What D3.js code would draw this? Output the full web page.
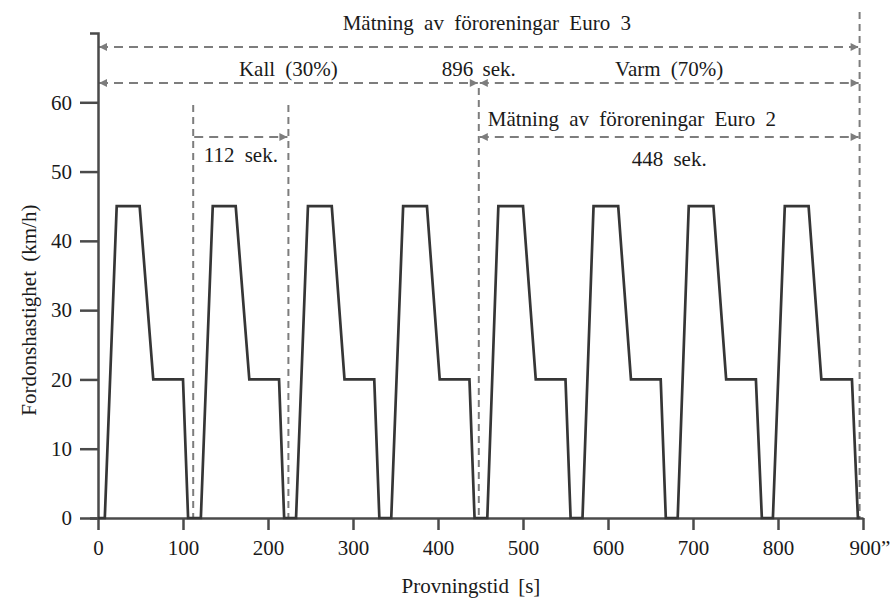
<!DOCTYPE html>
<meta charset="utf-8">
<script src="https://d3js.org/d3.v7.min.js"></script>
<style>
  body { margin: 0; background: white; }
  text { font-family: 'Liberation Serif', serif; fill: #1a1a1a; }
</style>
<body>
<div id="my_dataviz"></div>
<script>

// speed trace (s, km/h)
var times = [0,
  8, 22, 49, 65, 100, 106,
  121, 135, 162, 178, 213, 219,
  233, 247, 275, 290, 325, 331,
  345, 359, 387, 402, 437, 443,
  458, 471, 500, 515, 550, 556,
  570, 583, 612, 627, 662, 668,
  682, 695, 724, 739, 774, 781,
  794, 808, 836, 851, 887, 894,
  896]
var speeds = [0,
  0, 45, 45, 20, 20, 0,
  0, 45, 45, 20, 20, 0,
  0, 45, 45, 20, 20, 0,
  0, 45, 45, 20, 20, 0,
  0, 45, 45, 20, 20, 0,
  0, 45, 45, 20, 20, 0,
  0, 45, 45, 20, 20, 0,
  0, 45, 45, 20, 20, 0,
  0]

var xTicks = [0, 100, 200, 300, 400, 500, 600, 700, 800, 900]
var xTickLabels = ["0", "100", "200", "300", "400", "500", "600", "700", "800", "900\u201d"]
var yTicks = [0, 10, 20, 30, 40, 50, 60]

// annotation spans in seconds
var spanStart = [0, 0, 448, 112, 448]
var spanEnd = [896, 448, 896, 224, 896]
var spanLabels = ["Mätning av föroreningar Euro 3", "Kall (30%)", "Varm (70%)", "112 sek.", "448 sek."]
var guideTimes = [112, 224, 448, 896]

var width = 891
    height = 601

var svg = d3.select("#my_dataviz")
  .append("svg")
    .attr("width", width)
    .attr("height", height)

var x = d3.scaleLinear().domain([0, 900]).range([98, 863])
var y = d3.scaleLinear().domain([0, 70]).range([518, 33])

var grey = "#7d7d7d"

var defs = svg.append("defs")
defs.append("marker")
    .attr("id", "arrowEnd")
    .attr("viewBox", "0 0 10 10")
    .attr("refX", 10).attr("refY", 5)
    .attr("markerWidth", 5).attr("markerHeight", 4)
    .attr("markerUnits", "strokeWidth")
    .attr("orient", "auto")
  .append("path")
    .attr("d", "M0,0L10,5L0,10z")
    .attr("fill", grey)
defs.append("marker")
    .attr("id", "arrowStart")
    .attr("viewBox", "0 0 10 10")
    .attr("refX", 0).attr("refY", 5)
    .attr("markerWidth", 5).attr("markerHeight", 4)
    .attr("markerUnits", "strokeWidth")
    .attr("orient", "auto")
  .append("path")
    .attr("d", "M10,0L0,5L10,10z")
    .attr("fill", grey)

// vertical guides
var guideTop = [105, 105, 88, 12]
svg.selectAll("guides")
  .data(guideTimes)
  .enter()
  .append("line")
    .attr("x1", function(d){ return x(d) })
    .attr("x2", function(d){ return x(d) })
    .attr("y1", function(d, i){ return guideTop[i] })
    .attr("y2", y(0))
    .attr("stroke", grey)
    .attr("stroke-width", 2)
    .attr("stroke-dasharray", "7,5")

// horizontal span arrows
var rowY = [47, 83, 83, 137, 137]
var bothEnds = [true, true, true, false, true]
svg.selectAll("spans")
  .data(spanStart)
  .enter()
  .append("line")
    .attr("x1", function(d){ return x(d) + 1 })
    .attr("x2", function(d, i){ return x(spanEnd[i]) - 1 })
    .attr("y1", function(d, i){ return rowY[i] })
    .attr("y2", function(d, i){ return rowY[i] })
    .attr("stroke", grey)
    .attr("stroke-width", 2)
    .attr("stroke-dasharray", "9,6")
    .attr("marker-start", function(d, i){ return bothEnds[i] ? "url(#arrowStart)" : null })
    .attr("marker-end", "url(#arrowEnd)")

// span labels
var labelX = [x(0) + (x(896) - x(0)) / 2 + 8, (x(0) + x(448)) / 2, (x(448) + x(896)) / 2, (x(112) + x(224)) / 2, (x(448) + x(896)) / 2]
var labelY = [30, 76, 76, 162, 166]
svg.selectAll("spanLabels")
  .data(spanLabels)
  .enter()
  .append("text")
    .attr("x", function(d, i){ return labelX[i] })
    .attr("y", function(d, i){ return labelY[i] })
    .attr("text-anchor", "middle")
    .style("font-size", "21px")
    .style("word-spacing", "5px")
    .text(function(d){ return d })

svg.append("text")
    .attr("x", x(448))
    .attr("y", 76)
    .attr("text-anchor", "middle")
    .style("font-size", "21px")
    .style("word-spacing", "4px")
    .text("896 sek.")

svg.append("text")
    .attr("x", x(448) + 9)
    .attr("y", 126)
    .style("font-size", "21px")
    .style("word-spacing", "5px")
    .text("Mätning av föroreningar Euro 2")

// axes
var yAxis = svg.append("g")
    .attr("transform", "translate(" + x(0) + ",0)")
    .attr("font-family", "'Liberation Serif', serif")
    .attr("font-size", 21)
    .call(d3.axisLeft(y).tickValues(yTicks).tickSizeInner(18).tickSizeOuter(8).tickPadding(8))
var xAxis = svg.append("g")
    .attr("transform", "translate(0," + y(0) + ")")
    .attr("font-family", "'Liberation Serif', serif")
    .attr("font-size", 21)
    .call(d3.axisBottom(x).tickValues(xTicks).tickSizeInner(12).tickSizeOuter(0).tickPadding(10)
      .tickFormat(function(d, i){ return xTickLabels[i] }))

svg.selectAll(".domain, .tick line")
    .attr("stroke", "#4a4a4a")
    .attr("stroke-width", 2.5)
svg.selectAll(".tick text")
    .style("font-size", "21px")
    .style("font-family", "'Liberation Serif', serif")
    .attr("fill", "#1a1a1a")
xAxis.selectAll(".tick:last-child text").attr("dx", "0.3em")

// speed trace
var line = d3.line()
  .x(function(d, i){ return x(times[i]) })
  .y(function(d){ return y(d) })

svg.append("path")
    .datum(speeds)
    .attr("d", line)
    .attr("fill", "none")
    .attr("stroke", "#363636")
    .attr("stroke-width", 2.7)
    .attr("stroke-linejoin", "miter")

svg.append("text")
    .attr("transform", "translate(36," + y(30) + ") rotate(-90)")
    .attr("text-anchor", "middle")
    .style("font-size", "21px")
    .style("word-spacing", "4px")
    .text("Fordonshastighet (km/h)")

svg.append("text")
    .attr("x", 471)
    .attr("y", 593)
    .attr("text-anchor", "middle")
    .style("font-size", "21px")
    .style("word-spacing", "4px")
    .text("Provningstid [s]")

</script>
</body>
